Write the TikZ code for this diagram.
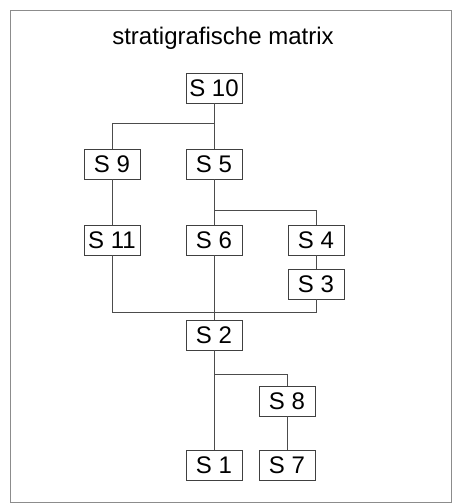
\documentclass[tikz,border=0pt]{standalone}
\usepackage{fontspec}
\setmainfont{Liberation Sans}
\tikzset{
	sbox/.style={draw=black!75, line width=0.9pt, minimum width=56pt, minimum height=30pt, inner sep=0pt, font=\fontsize{24}{24}\selectfont},
	link/.style={draw=black!70, line width=0.9pt}
}

\begin{document}
\begin{tikzpicture}[x=1pt, y=-1pt]
	\useasboundingbox (0,0) rectangle (453,504);
	\draw[black!45, line width=1pt] (10,10) rectangle (451,502);
	\node[font=\fontsize{24}{24}\selectfont] (title) at (223,38) {stratigrafische matrix};
	\node[sbox] (s10) at (214,88) {S 10};
	\node[sbox] (s9) at (112,164) {S 9};
	\node[sbox] (s5) at (214,164) {S 5};
	\node[sbox] (s11) at (112,240) {S 11};
	\node[sbox] (s6) at (214,240) {S 6};
	\node[sbox] (s4) at (316,240) {S 4};
	\node[sbox] (s3) at (316,284) {S 3};
	\node[sbox] (s2) at (214,335) {S 2};
	\node[sbox] (s8) at (287,401) {S 8};
	\node[sbox] (s1) at (214,465) {S 1};
	\node[sbox] (s7) at (287,465) {S 7};
	\coordinate (j1) at (214,123);
	\coordinate (j2) at (214,210);
	\coordinate (j3) at (214,312);
	\coordinate (j4) at (214,374);
	\draw[link] (s10) -- (s5);
	\draw[link] (j1) -| (s9);
	\draw[link] (s9) -- (s11);
	\draw[link] (s5) -- (s6);
	\draw[link] (j2) -| (s4);
	\draw[link] (s4) -- (s3);
	\draw[link] (s6) -- (s2);
	\draw[link] (s11) |- (j3);
	\draw[link] (s3) |- (j3);
	\draw[link] (s2) -- (s1);
	\draw[link] (j4) -| (s8);
	\draw[link] (s8) -- (s7);
\end{tikzpicture}
\end{document}
